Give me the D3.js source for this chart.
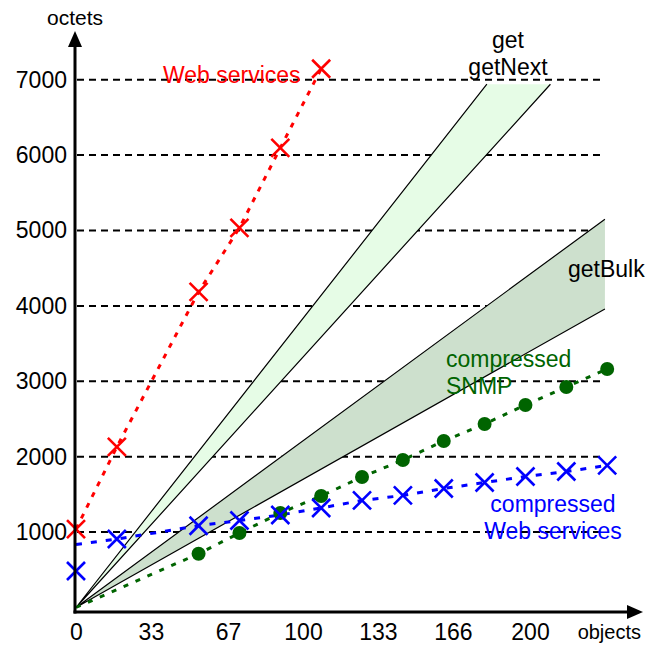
<!DOCTYPE html>
<html>
<head>
<meta charset="utf-8">
<script src="https://cdn.jsdelivr.net/npm/d3@7"></script>
<style>
  body { margin: 0; background: #fff; }
  text { font-family: "Liberation Sans", Arial, sans-serif; }
</style>
</head>
<body>
<div id="chart"></div>
<script>
// axis ticks
const xTicks = [0, 33, 67, 100, 133, 166, 200];
const yTicks = [1000, 2000, 3000, 4000, 5000, 6000, 7000];

// Web services (red)
const wsObjects = [0, 18, 54, 72, 90, 108];
const wsOctets = [1040, 2130, 4185, 5035, 6095, 7145];

// compressed Web services (blue)
const cwsObjects = [0, 18, 54, 72, 90, 108, 126, 144, 162, 180, 198, 216, 234];
const cwsOctets = [484, 908, 1084, 1154, 1227, 1320, 1420, 1486, 1578, 1658, 1737, 1804, 1884];
const cwsLineStart = 835;

// compressed SNMP (green)
const csObjects = [54, 72, 90, 108, 126, 144, 162, 180, 198, 216, 234];
const csOctets = [713, 988, 1253, 1479, 1731, 1956, 2208, 2434, 2686, 2924, 3163];
const csLineStart = 0;

// get / getNext band and getBulk band (origin, upper end, lower end)
const getBandObjects = [0, 181, 209];
const getBandOctets = [0, 6940, 6940];
const bulkBandObjects = [0, 233, 233];
const bulkBandOctets = [0, 5150, 3960];

const width = 650, height = 645;

const svg = d3.select("#chart")
    .append("svg")
    .attr("width", width)
    .attr("height", height);

const x = d3.scaleLinear().domain([0, 200]).range([76, 530]);
const y = d3.scaleLinear().domain([0, 7000]).range([607.5, 79.7]);

// gridlines
svg.append("g")
    .selectAll("line")
    .data(yTicks)
    .enter().append("line")
    .attr("x1", x(0) + 1)
    .attr("x2", x(233))
    .attr("y1", d => y(d))
    .attr("y2", d => y(d))
    .attr("stroke", "#000")
    .attr("stroke-width", 2)
    .attr("stroke-dasharray", "7,5");

// bands
function band(xs, ys, fill) {
    const pts = xs.map((v, i) => [x(v), y(ys[i])]);
    svg.append("path")
        .attr("d", d3.line()(pts) + "Z")
        .attr("fill", fill)
        .attr("stroke", "none");
    svg.append("path")
        .attr("d", d3.line()([pts[1], pts[0], pts[2]]))
        .attr("fill", "none")
        .attr("stroke", "#000")
        .attr("stroke-width", 1.2);
}
band(getBandObjects, getBandOctets, "#e6fce6");
band(bulkBandObjects, bulkBandOctets, "#cde0cd");

// series lines
const line = d3.line().x(d => x(d[0])).y(d => y(d[1]));

const wsPts = wsObjects.map((v, i) => [v, wsOctets[i]]);
const cwsPts = [[0, cwsLineStart]].concat(cwsObjects.slice(1).map((v, i) => [v, cwsOctets[i + 1]]));
const csPts = [[0, csLineStart]].concat(csObjects.map((v, i) => [v, csOctets[i]]));

svg.append("path").attr("d", line(csPts))
    .attr("fill", "none").attr("stroke", "#006400")
    .attr("stroke-width", 3).attr("stroke-dasharray", "5,8");
svg.append("path").attr("d", line(cwsPts))
    .attr("fill", "none").attr("stroke", "#0000ff")
    .attr("stroke-width", 3).attr("stroke-dasharray", "6,9");
svg.append("path").attr("d", line(wsPts))
    .attr("fill", "none").attr("stroke", "#ff0000")
    .attr("stroke-width", 3).attr("stroke-dasharray", "5,7");

// markers
function crosses(xs, ys, color) {
    const s = 9;
    svg.append("g")
        .selectAll("path")
        .data(xs.map((v, i) => [x(v), y(ys[i])]))
        .enter().append("path")
        .attr("d", d => `M${d[0] - s},${d[1] - s}L${d[0] + s},${d[1] + s}M${d[0] - s},${d[1] + s}L${d[0] + s},${d[1] - s}`)
        .attr("stroke", color)
        .attr("stroke-width", 2.6)
        .attr("fill", "none");
}
svg.append("g")
    .selectAll("circle")
    .data(csObjects.map((v, i) => [x(v), y(csOctets[i])]))
    .enter().append("circle")
    .attr("cx", d => d[0])
    .attr("cy", d => d[1])
    .attr("r", 7)
    .attr("fill", "#006400");
crosses(cwsObjects, cwsOctets, "#0000ff");
crosses(wsObjects, wsOctets, "#ff0000");

// axes
const yAxis = svg.append("g")
    .attr("transform", `translate(75,0)`)
    .call(d3.axisLeft(y).tickValues(yTicks).tickSize(0).tickPadding(8).tickFormat(d3.format("d")));
yAxis.select(".domain").remove();
yAxis.selectAll("text").attr("font-size", 23).attr("fill", "#000")
    .style("font-family", "'Liberation Sans', Arial, sans-serif");

const xAxis = svg.append("g")
    .attr("transform", `translate(0,612)`)
    .call(d3.axisBottom(x).tickValues(xTicks).tickSize(0).tickPadding(12).tickFormat(d3.format("d")));
xAxis.select(".domain").remove();
xAxis.selectAll("text").attr("font-size", 23).attr("fill", "#000")
    .style("font-family", "'Liberation Sans', Arial, sans-serif");

svg.append("line").attr("x1", 75).attr("y1", 613.5).attr("x2", 75).attr("y2", 42)
    .attr("stroke", "#000").attr("stroke-width", 3);
svg.append("path").attr("d", "M75,31L68,47L82,47Z").attr("fill", "#000");
svg.append("line").attr("x1", 73.5).attr("y1", 612).attr("x2", 630).attr("y2", 612)
    .attr("stroke", "#000").attr("stroke-width", 3);
svg.append("path").attr("d", "M643,612L627,605L627,619Z").attr("fill", "#000");

svg.append("text").attr("x", 75).attr("y", 25).attr("text-anchor", "middle")
    .attr("font-size", 21).text("octets");
svg.append("text").attr("x", 641).attr("y", 639).attr("text-anchor", "end")
    .attr("font-size", 20).text("objects");

// series labels
function label(lines, px, py, color, anchor) {
    const t = svg.append("text")
        .attr("x", px).attr("y", py)
        .attr("font-size", 23)
        .attr("fill", color)
        .attr("text-anchor", anchor);
    lines.forEach((s, i) => t.append("tspan").attr("x", px).attr("dy", i ? 27 : 0).text(s));
}
label(["Web services"], 163, 83, "#ff0000", "start");
label(["get", "getNext"], 508, 48, "#000", "middle");
label(["getBulk"], 568, 277, "#000", "start");
label(["compressed", "SNMP"], 446, 367, "#006400", "start");
label(["compressed", "Web services"], 553, 512, "#0000ff", "middle");
</script>
</body>
</html>
